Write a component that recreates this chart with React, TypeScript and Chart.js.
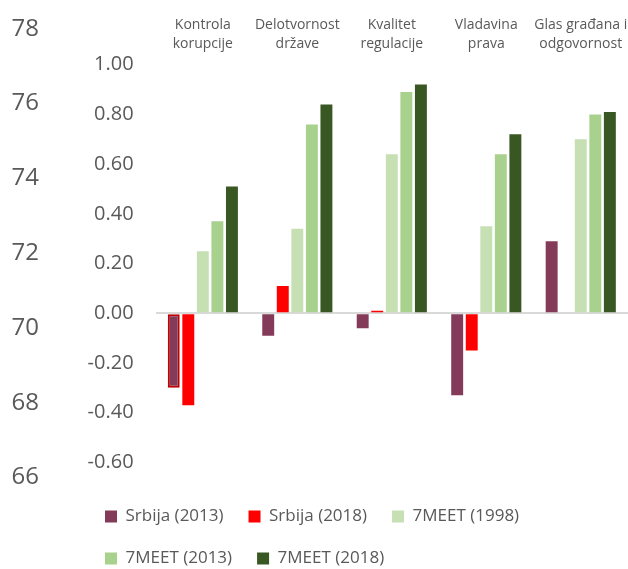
import React, { useEffect, useRef } from "react";
import { Chart, registerables } from "chart.js";

Chart.register(...registerables);

// ---- data ----
const categories: string[][] = [
  ["Kontrola", "korupcije"],
  ["Delotvornost", "države"],
  ["Kvalitet", "regulacije"],
  ["Vladavina", "prava"],
  ["Glas građana i", "odgovornost"],
];
const seriesNames = ["Srbija (2013)", "Srbija (2018)", "7MEET (1998)", "7MEET (2013)", "7MEET (2018)"];
const srbija2013 = [-0.3, -0.09, -0.06, -0.33, 0.29];
const srbija2018: (number | null)[] = [-0.37, 0.11, 0.01, -0.15, null];
const meet1998 = [0.25, 0.34, 0.64, 0.35, 0.7];
const meet2013 = [0.37, 0.76, 0.89, 0.64, 0.8];
const meet2018 = [0.51, 0.84, 0.92, 0.72, 0.81];
const innerTicks = [-0.6, -0.4, -0.2, 0, 0.2, 0.4, 0.6, 0.8, 1.0];
const outerTicks = [66, 68, 70, 72, 74, 76, 78];

// ---- styles ----
const colors = ["#843B5A", "#FF0000", "#C6E0B4", "#A9D18E", "#385723"];
const textColor = "#595959";
const fontFamily = "'Open Sans', 'Noto Sans', sans-serif";

const legendShift = {
  id: "legendShift",
  afterLayout(chart: any) {
    const lg = chart.legend;
    if (!lg) return;
    const w = lg.width;
    lg.left = 80;
    lg.right = 80 + w;
    lg.top += 4;
    lg.bottom += 4;
  },
};

export default function App() {
  const ref = useRef<HTMLCanvasElement | null>(null);

  useEffect(() => {
    if (!ref.current) return;
    Chart.defaults.font.family = fontFamily;
    Chart.defaults.color = textColor;
    const values = [srbija2013, srbija2018, meet1998, meet2013, meet2018];
    const chart = new Chart(ref.current, {
      type: "bar",
      data: {
        labels: categories,
        datasets: values.map((d, i) => ({
          label: seriesNames[i],
          data: d,
          xAxisID: "x",
          yAxisID: "y",
          backgroundColor: colors[i],
          borderColor: (ctx: any) =>
            i === 0 && ctx.type === "data" && ctx.dataIndex === 0 ? "#C00000" : "rgba(0,0,0,0)",
          borderWidth: (ctx: any) => (i === 0 && ctx.type === "data" && ctx.dataIndex === 0 ? 2 : 0),
          borderSkipped: false,
          categoryPercentage: 0.77,
          barPercentage: 0.82,
        })),
      },
      options: {
        responsive: false,
        animation: false,
        devicePixelRatio: 1,
        layout: { padding: { top: 20, left: 0, right: 0, bottom: -4 } },
        scales: {
          x: {
            type: "category",
            position: { y: 1.2 } as any,
            afterFit: (scale: any) => {
              scale.height = 0;
              scale.paddingLeft = 0;
              scale.paddingRight = 0;
            },
            grid: { display: false, drawTicks: false },
            border: { display: false },
            ticks: {
              autoSkip: false,
              maxRotation: 0,
              minRotation: 0,
              padding: 0,
              color: textColor,
              font: { size: 14, lineHeight: 1.36 },
            },
          },
          y: {
            type: "linear",
            position: "left",
            weight: 0,
            min: -0.6668,
            max: 1.18,
            afterBuildTicks: (scale: any) => {
              scale.ticks = innerTicks.map((v) => ({ value: v }));
            },
            afterFit: (scale: any) => {
              scale.width = 72.6;
              scale.paddingTop = 0;
              scale.paddingBottom = 0;
            },
            grid: {
              drawTicks: false,
              lineWidth: 2,
              color: (ctx: any) =>
                ctx.tick && Math.abs(ctx.tick.value) < 1e-9 ? "#D9D9D9" : "rgba(0,0,0,0)",
            },
            border: { display: false },
            ticks: {
              padding: 22,
              color: textColor,
              font: { size: 20 },
              callback: (v: any) => Number(v).toFixed(2),
            },
          },
          yOuter: {
            type: "linear",
            position: "left",
            weight: 1,
            min: 65.96,
            max: 78.233,
            afterBuildTicks: (scale: any) => {
              scale.ticks = outerTicks.map((v) => ({ value: v }));
            },
            afterFit: (scale: any) => {
              scale.width = 83;
              scale.paddingTop = 0;
              scale.paddingBottom = 0;
            },
            grid: { display: false, drawTicks: false },
            border: { display: false },
            ticks: {
              padding: 44,
              color: textColor,
              font: { size: 24 },
              callback: (v: any) => String(v),
            },
          },
        },
        plugins: {
          tooltip: { enabled: false },
          legend: {
            position: "bottom",
            align: "start",
            fullSize: false,
            labels: {
              boxWidth: 12,
              boxHeight: 12,
              padding: 25,
              color: textColor,
              font: { size: 17 },
              generateLabels: (chart: any) =>
                Chart.defaults.plugins.legend.labels
                  .generateLabels(chart)
                  .map((l: any) => ({ ...l, lineWidth: 0, strokeStyle: "rgba(0,0,0,0)" })),
            },
          },
        },
      },
      plugins: [legendShift],
    } as any);
    return () => chart.destroy();
  }, []);

  return (
    <div style={{ position: "absolute", left: 0, top: 0, width: 628, height: 569 }}>
      <canvas ref={ref} width={628} height={569} />
    </div>
  );
}
